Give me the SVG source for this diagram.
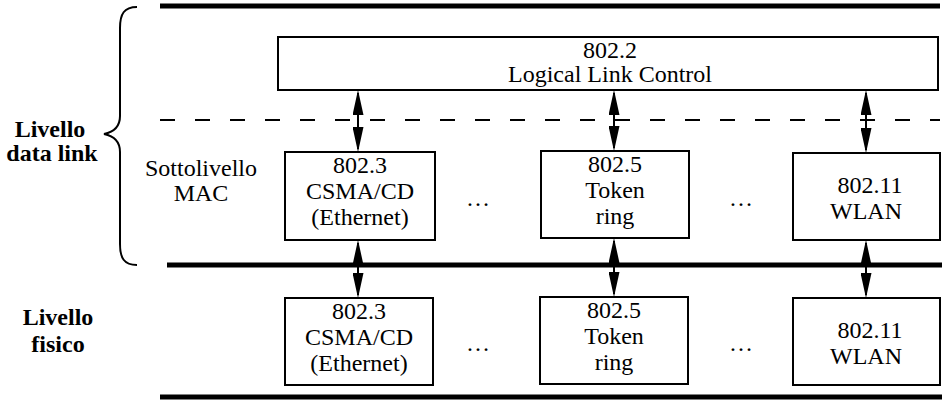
<svg xmlns="http://www.w3.org/2000/svg" width="949" height="405" viewBox="0 0 949 405">
<defs>
<style>
.box{fill:#fff;stroke:#000;stroke-width:2}
.t{font-family:"Liberation Serif","Times New Roman",serif;font-size:24px;fill:#000;text-anchor:middle}
.b{font-weight:bold}
.thick{stroke:#000;stroke-width:5;fill:none}
.dash{stroke:#000;stroke-width:2;stroke-dasharray:15 20;fill:none}
.arr{stroke:#000;stroke-width:2;fill:none;marker-start:url(#ah);marker-end:url(#ah)}
</style>
<marker id="ah" markerUnits="userSpaceOnUse" viewBox="0 0 25 11" markerWidth="25" markerHeight="11" refX="22" refY="5.5" orient="auto-start-reverse">
<path d="M0,0 L25,5.5 L0,11 z" fill="#000"/>
</marker>
</defs>
<g id="layers">
<line class="thick" x1="160" y1="6" x2="940" y2="6"/>
<line class="dash" x1="160" y1="120" x2="940" y2="120"/>
<line class="thick" x1="167" y1="265" x2="942" y2="265"/>
<line class="thick" x1="160" y1="397" x2="942" y2="397"/>
<path d="M137,7 C124,7 120,14 120,28 L120,116 C120,127 114,132 104,134 C114,136 120,141 120,152 L120,244 C120,258 124,265 137,265" fill="none" stroke="#000" stroke-width="2"/>
<text class="t b" x="50" y="137">Livello</text>
<text class="t b" x="52" y="161">data link</text>
<text class="t" x="201" y="176">Sottolivello</text>
<text class="t" x="201" y="201">MAC</text>
<text class="t b" x="58" y="325">Livello</text>
<text class="t b" x="58" y="352">fisico</text>
<text class="t" x="478" y="206">…</text>
<text class="t" x="741" y="206">…</text>
<text class="t" x="478" y="351">…</text>
<text class="t" x="741" y="351">…</text>
</g>
<g id="connectors">
<line class="arr" x1="358" y1="93" x2="358" y2="149"/>
<line class="arr" x1="614" y1="93" x2="614" y2="148"/>
<line class="arr" x1="866" y1="93" x2="866" y2="150"/>
<line class="arr" x1="358" y1="243" x2="358" y2="295"/>
<line class="arr" x1="614" y1="241" x2="614" y2="294"/>
<line class="arr" x1="866" y1="243" x2="866" y2="295"/>
</g>
<g id="llc">
<rect class="box" x="278" y="37" width="660" height="53"/>
<text class="t" x="610" y="58">802.2</text>
<text class="t" x="610" y="82">Logical Link Control</text>
</g>
<g id="mac-8023">
<rect class="box" x="285" y="152" width="150" height="88"/>
<text class="t" x="360" y="173">802.3</text>
<text class="t" x="360" y="199">CSMA/CD</text>
<text class="t" x="360" y="225">(Ethernet)</text>
</g>
<g id="mac-8025">
<rect class="box" x="541" y="151" width="148" height="87"/>
<text class="t" x="615" y="172">802.5</text>
<text class="t" x="615" y="198">Token</text>
<text class="t" x="615" y="224">ring</text>
</g>
<g id="mac-80211">
<rect class="box" x="793" y="153" width="147" height="87"/>
<text class="t" x="870" y="193">802.11</text>
<text class="t" x="866" y="219">WLAN</text>
</g>
<g id="phy-8023">
<rect class="box" x="285" y="298" width="148" height="87"/>
<text class="t" x="359" y="319">802.3</text>
<text class="t" x="359" y="345">CSMA/CD</text>
<text class="t" x="359" y="371">(Ethernet)</text>
</g>
<g id="phy-8025">
<rect class="box" x="540" y="297" width="148" height="87"/>
<text class="t" x="614" y="318">802.5</text>
<text class="t" x="614" y="344">Token</text>
<text class="t" x="614" y="370">ring</text>
</g>
<g id="phy-80211">
<rect class="box" x="793" y="298" width="147" height="87"/>
<text class="t" x="870" y="338">802.11</text>
<text class="t" x="866" y="364">WLAN</text>
</g>
</svg>
